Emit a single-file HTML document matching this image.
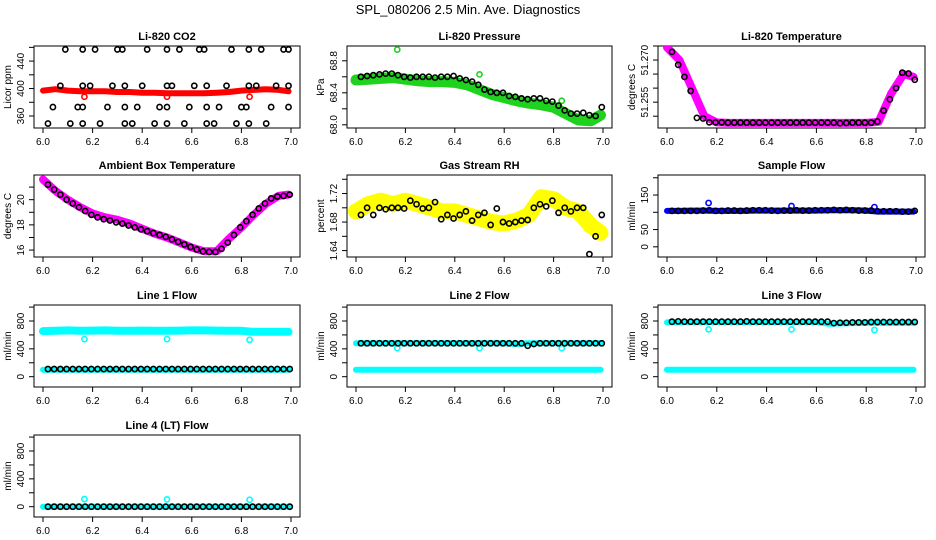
<!DOCTYPE html>
<html><head><meta charset="utf-8"><style>
html,body{margin:0;padding:0;background:#fff;}
svg{display:block;font-family:"Liberation Sans",sans-serif;}
</style></head><body>
<svg id="chart" width="936" height="540" viewBox="0 0 936 540">
<text x="468" y="14" text-anchor="middle" font-size="13">SPL_080206  2.5 Min. Ave. Diagnostics</text>
</svg>
<script>
// ---- data ----
const xTicks=[6.0,6.2,6.4,6.6,6.8,7.0];
const xTickLabels=["6.0","6.2","6.4","6.6","6.8","7.0"];
const bandX=[6.0,6.05,6.1,6.15,6.2,6.25,6.3,6.35,6.4,6.45,6.5,6.55,6.6,6.65,6.7,6.75,6.8,6.85,6.9,6.95,6.99];
const tx=[6.02,6.045,6.07,6.095,6.12,6.145,6.17,6.195,6.22,6.245,6.27,6.295,6.32,6.345,6.37,6.395,6.42,6.445,6.47,6.495,6.52,6.545,6.57,6.595,6.62,6.645,6.67,6.695,6.72,6.745,6.77,6.795,6.82,6.845,6.87,6.895,6.92,6.945,6.97,6.995];
const outX=[6.167,6.5,6.833];

// CO2
const co2Band=[397,399,397,396,396,396,395,395,394,394,393,393,393,393,394,395,397,398,399,398,396];
const co2Out=[388,388,388];
const co2X=[6.09,6.16,6.21,6.30,6.32,6.42,6.50,6.55,6.63,6.65,6.76,6.83,6.88,6.97,6.99,
6.07,6.16,6.19,6.28,6.33,6.40,6.50,6.52,6.61,6.66,6.74,6.83,6.86,6.94,6.99,
6.04,6.14,6.16,6.26,6.33,6.38,6.47,6.50,6.59,6.66,6.71,6.80,6.82,6.92,6.99,
6.02,6.11,6.16,6.23,6.33,6.36,6.45,6.50,6.57,6.66,6.69,6.78,6.83,6.90];
const co2Y=[457,457,457,457,457,457,457,457,457,457,457,457,457,457,457,
404,404,404,404,404,404,404,404,404,404,404,404,404,404,404,
373,373,373,373,373,373,373,373,373,373,373,373,373,373,373,
349,349,349,349,349,349,349,349,349,349,349,349,349,349];
// Pressure
const presBand=[68.56,68.57,68.58,68.59,68.57,68.55,68.54,68.54,68.53,68.50,68.44,68.38,68.34,68.30,68.27,68.25,68.22,68.14,68.06,68.05,68.12];
const presOut=[68.94,68.63,68.3];
const presPts=[68.60,68.61,68.62,68.63,68.64,68.64,68.62,68.60,68.59,68.60,68.60,68.60,68.59,68.60,68.60,68.61,68.58,68.56,68.54,68.50,68.44,68.41,68.40,68.40,68.36,68.35,68.33,68.32,68.33,68.33,68.30,68.29,68.24,68.18,68.14,68.14,68.15,68.12,68.11,68.22];
// Li-820 temperature
const ltBand=[51.2745,51.2700,51.2600,51.2500,51.2478,51.2476,51.2476,51.2476,51.2476,51.2476,51.2476,51.2476,51.2476,51.2476,51.2476,51.2476,51.2476,51.2480,51.2580,51.2650,51.2640];
const ltPts=[51.2729,51.2683,51.2640,51.2590,51.2494,51.2492,51.2478,51.2478,51.2478,51.2477,51.2477,51.2477,51.2477,51.2477,51.2477,51.2477,51.2477,51.2477,51.2477,51.2477,51.2477,51.2477,51.2477,51.2477,51.2477,51.2477,51.2477,51.2475,51.2476,51.2477,51.2477,51.2477,51.2477,51.2481,51.2520,51.2560,51.2600,51.2655,51.2652,51.2630];
// Ambient
const ambBand=[21.6,20.7,20.0,19.4,18.9,18.6,18.4,18.1,17.7,17.3,17.0,16.6,16.2,15.9,15.9,16.9,17.8,18.8,19.7,20.3,20.4];
const ambPts=[21.2,20.8,20.4,20.0,19.7,19.4,19.1,18.8,18.6,18.45,18.35,18.2,18.1,17.95,17.8,17.65,17.5,17.35,17.2,17.05,16.85,16.65,16.45,16.25,16.05,15.9,15.85,15.85,16.1,16.6,17.2,17.8,18.3,18.8,19.3,19.7,20.1,20.25,20.3,20.4];
// RH
const rhBand=[1.695,1.705,1.71,1.705,1.71,1.705,1.70,1.695,1.695,1.69,1.685,1.68,1.678,1.682,1.69,1.715,1.712,1.70,1.695,1.675,1.665];
const rhPts=[1.69,1.70,1.69,1.70,1.698,1.70,1.70,1.699,1.71,1.705,1.699,1.70,1.708,1.684,1.69,1.685,1.69,1.695,1.682,1.690,1.693,1.676,1.699,1.68,1.678,1.68,1.682,1.683,1.70,1.705,1.702,1.71,1.693,1.70,1.695,1.70,1.70,1.635,1.66,1.69];
// Flows
const sfBand=[104,104,105,105,104,104,104,105,105,105,105,105,105,106,106,106,105,102,102,102,102];
const sfOut=[127,118,115];
const sfPts=[104,104,104,104,104,105,106,104,104,105,105,104,105,106,106,106,105,104,105,105,106,105,105,106,106,106,107,106,107,106,105,105,105,103,103,103,103,102,102,104];
const l1Band=[655,660,665,660,662,665,660,660,662,660,660,662,665,665,662,660,660,645,645,645,645];
const l1Low=[100,100,100,100,100,100,100,100,100,100,100,100,100,100,100,100,100,100,100,100,100];
const l1Out=[540,540,530];
const l1Pts=[110,110,110,110,110,110,110,110,110,110,110,110,110,110,110,110,110,110,110,110,110,110,110,110,110,110,110,110,110,110,110,110,110,110,110,110,110,110,110,110];
const l2Band=[480,480,480,480,480,480,480,480,480,480,480,480,480,470,480,480,480,480,480,480,480];
const l2Low=[100,100,100,100,100,100,100,100,100,100,100,100,100,100,100,100,100,100,100,100,100];
const l2Out=[410,410,410];
const l2Pts=[480,480,480,480,480,480,480,480,480,480,480,480,480,480,480,480,480,480,480,480,480,480,480,480,480,480,480,445,470,480,480,480,480,480,480,480,480,480,480,480];
const l3Band=[780,785,785,785,785,785,785,785,785,785,785,785,785,760,765,770,775,775,775,775,775];
const l3Low=[100,100,100,100,100,100,100,100,100,100,100,100,100,100,100,100,100,100,100,100,100];
const l3Out=[680,680,670];
const l3Pts=[790,795,790,790,790,790,790,790,790,790,790,790,795,790,790,790,790,790,790,790,790,790,790,790,790,790,770,775,775,780,780,780,785,785,785,785,785,785,785,785];
const l4Band=[0,0,0,0,0,0,0,0,0,0,0,0,0,0,0,0,0,0,0,0,0];
const l4Out=[110,105,100];
const l4Pts=[0,0,0,0,0,0,0,0,0,0,0,0,0,0,0,0,0,0,0,0,0,0,0,0,0,0,0,0,0,0,0,0,0,0,0,0,0,0,0,0];

// ---- drawing ----
const NS="http://www.w3.org/2000/svg";
const svg=document.getElementById('chart');
const colL=[34,347,658], colR=[300,612,925], rowT=[46,175,305,435], H=82;
function mk(tag,attrs,parent){const e=document.createElementNS(NS,tag);for(const k in attrs)e.setAttribute(k,attrs[k]);(parent||svg).appendChild(e);return e;}
function panel(name,col,row,title,ylab,yMin,yMax,yTicks,yLabels){
  const L=colL[col],R=colR[col],T=rowT[row],B=T+H;
  const g=mk('g',{});
  
  
  const sx=v=>L+9+(v-6)*(R-L-18);
  const sy=v=>B-(v-yMin)/(yMax-yMin)*H;
  const fr=mk('rect',{x:L,y:T,width:R-L,height:H,fill:'none',stroke:'#000','stroke-width':1},g);
  
  
  const t=mk('text',{x:(L+R)/2,y:T-6,'text-anchor':'middle','font-size':11,'font-weight':'bold'},g);t.textContent=title;
  
  
  const yl=mk('text',{transform:`translate(${L-23},${(T+B)/2}) rotate(-90)`,'text-anchor':'middle','font-size':10},g);yl.textContent=ylab;
  
  
  xTicks.forEach((v,i)=>{
    mk('line',{x1:sx(v),x2:sx(v),y1:B,y2:B+5,stroke:'#000'},g);
    const tl=mk('text',{x:sx(v),y:B+17,'text-anchor':'middle','font-size':10},g);tl.textContent=xTickLabels[i];
    
    
  });
  yTicks.forEach((v,i)=>{
    mk('line',{x1:L,x2:L-5,y1:sy(v),y2:sy(v),stroke:'#000'},g);
    if(yLabels[i]){const tl=mk('text',{transform:`translate(${L-10},${sy(v)}) rotate(-90)`,'text-anchor':'middle','font-size':10},g);tl.textContent=yLabels[i];
    
    }
  });
  const clip='clip-'+name;
  const cp=mk('clipPath',{id:clip},g);mk('rect',{x:L,y:T,width:R-L,height:H},cp);
  const d=mk('g',{'clip-path':`url(#${clip})`},g);
  return {sx,sy,g:d,name};
}
function band(p,xs,ys,color,w){
  const pts=xs.map((x,i)=>p.sx(x).toFixed(1)+','+p.sy(ys[i]).toFixed(1)).join(' ');
  const e=mk('polyline',{points:pts,fill:'none',stroke:color,'stroke-width':w,'stroke-linejoin':'round','stroke-linecap':'round'},p.g);
  
  
}
function pts(p,xs,ys,color,r){
  ys.forEach((v,i)=>{const c=mk('circle',{cx:p.sx(xs[i]),cy:p.sy(v),r:r||2.6,fill:'none',stroke:color,'stroke-width':1.6},p.g);
  
  });
}
let p;
p=panel('co2',0,0,'Li-820 CO2','Licor ppm',342.5,462,[360,380,400,420,440,460],['360','','400','','440','']);
band(p,bandX,co2Band,'#f00',6);pts(p,outX,co2Out,'#f00');pts(p,co2X,co2Y,'#000');
p=panel('pressure',1,0,'Li-820 Pressure','kPa',67.96,68.985,[68.0,68.2,68.4,68.6,68.8],['68.0','','68.4','','68.8']);
band(p,bandX,presBand,'#1ed21e',11);pts(p,outX,presOut,'#1ed21e');pts(p,tx,presPts,'#000');
p=panel('li820-temp',2,0,'Li-820 Temperature','degrees C',51.2458,51.275,[51.250,51.255,51.260,51.265,51.270,51.275],['','51.255','','','51.270','']);
band(p,bandX,ltBand,'#f0f',8);pts(p,tx,ltPts,'#000');
p=panel('ambient-temp',0,1,'Ambient Box Temperature','degrees C',15.45,21.96,[16,17,18,19,20,21],['16','','18','','20','']);
band(p,bandX,ambBand,'#f0f',8);pts(p,tx,ambPts,'#000');
p=panel('rh',1,1,'Gas Stream RH','percent',1.631,1.746,[1.64,1.66,1.68,1.70,1.72,1.74],['1.64','','1.68','','1.72','']);
band(p,bandX,rhBand,'#ffff00',16);pts(p,tx,rhPts,'#000');
p=panel('sample-flow',2,1,'Sample Flow','ml/min',-29.5,208,[0,50,100,150,200],['0','50','','150','']);
band(p,bandX,sfBand,'#00f',6);pts(p,outX,sfOut,'#00f');pts(p,tx,sfPts,'#000');
const fT=[0,200,400,600,800,1000],fL=['0','','400','','800',''];
p=panel('line1-flow',0,2,'Line 1 Flow','ml/min',-148,1030,fT,fL);
band(p,bandX,l1Band,'#0ff',8);band(p,bandX,l1Low,'#0ff',6);pts(p,outX,l1Out,'#0ff');pts(p,tx,l1Pts,'#000');
p=panel('line2-flow',1,2,'Line 2 Flow','ml/min',-148,1030,fT,fL);
band(p,bandX,l2Band,'#0ff',6);band(p,bandX,l2Low,'#0ff',6);pts(p,outX,l2Out,'#0ff');pts(p,tx,l2Pts,'#000');
p=panel('line3-flow',2,2,'Line 3 Flow','ml/min',-148,1030,fT,fL);
band(p,bandX,l3Band,'#0ff',6);band(p,bandX,l3Low,'#0ff',6);pts(p,outX,l3Out,'#0ff');pts(p,tx,l3Pts,'#000');
p=panel('line4-flow',0,3,'Line 4 (LT) Flow','ml/min',-148,1030,fT,fL);
band(p,bandX,l4Band,'#0ff',6);pts(p,outX,l4Out,'#0ff');pts(p,tx,l4Pts,'#000');
</script>
</body></html>
